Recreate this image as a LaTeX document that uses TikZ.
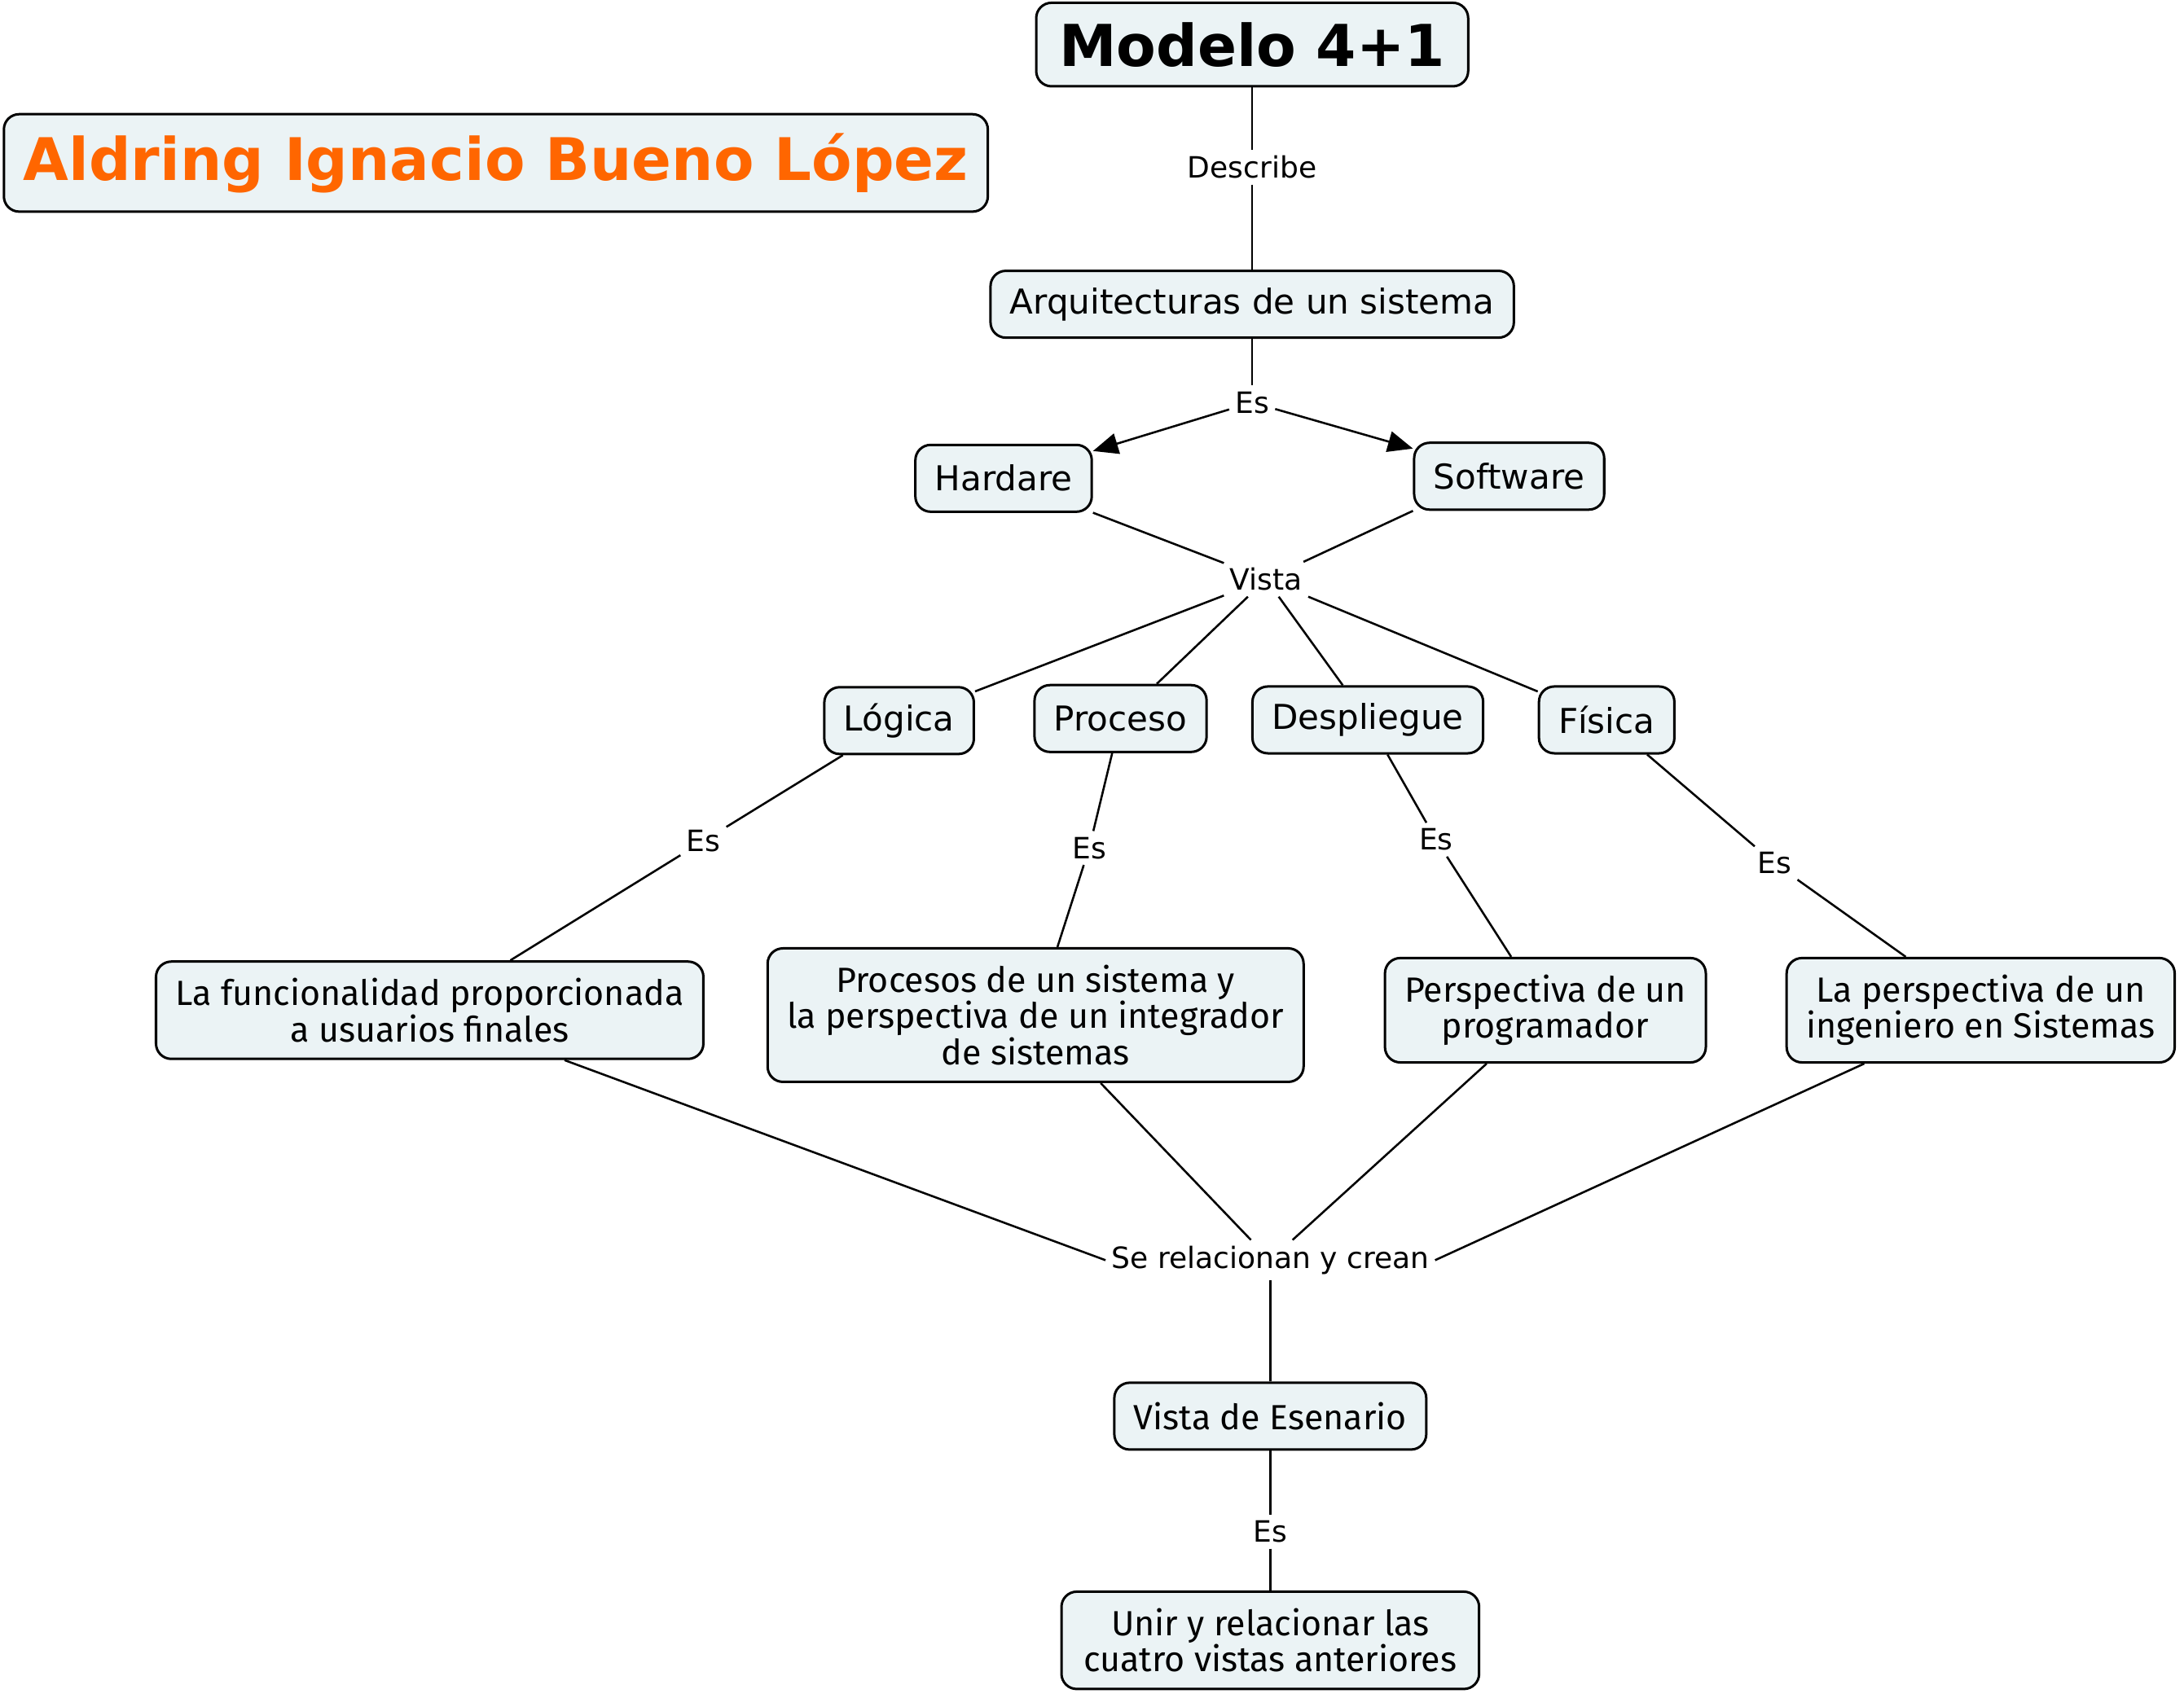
\documentclass[tikz,border=0pt]{standalone}
\usepackage{fontspec}
\setmainfont{DejaVu Sans}
\newfontfamily\boxfont{Fira Sans}
\usetikzlibrary{arrows.meta}

\definecolor{cmapfill}{RGB}{235,243,245}
\definecolor{nameorange}{RGB}{255,102,0}

\tikzset{
  concept/.style={draw, line width=1pt, rounded corners=0.22cm, fill=cmapfill,
    inner xsep=0.28cm, inner ysep=0.2cm, minimum height=0.96cm,
    font=\fontsize{14}{16}\selectfont},
  longconcept/.style={concept, align=center, inner ysep=0.24cm,
    font=\boxfont\fontsize{14.3}{14.8}\selectfont},
  linkword/.style={inner sep=0.08cm, font=\fontsize{12}{14}\selectfont},
  link/.style={line width=0.85pt},
  arrowlink/.style={link, -{Triangle[length=0.36cm,width=0.3cm]}},
}

\begin{document}
\begin{tikzpicture}[x=0.02cm,y=-0.02cm]
  \useasboundingbox (0,0) rectangle (1568,1219);

  % header
  \node[concept, minimum height=1.2cm, inner xsep=0.33cm,
    font=\bfseries\fontsize{23.6}{28}\selectfont] (modelo) at (899,32) {Modelo 4+1};
  \node[concept, minimum height=1.4cm, inner xsep=0.28cm, text=nameorange,
    font=\bfseries\fontsize{24}{27}\selectfont] (autor) at (356,117) {Aldring Ignacio Bueno López};

  % upper part
  \node[concept] (arq) at (899,218.5) {Arquitecturas de un sistema};
  \node[linkword] (describe) at (899,120) {Describe};
  \node[linkword] (esarq) at (899,289) {Es};
  \node[concept] (hard) at (720.5,343.5) {Hardare};
  \node[concept] (soft) at (1083.5,342) {Software};
  \node[linkword] (vista) at (909,416) {Vista};

  % the four views
  \node[concept] (logica) at (645.5,517.5) {Lógica};
  \node[concept] (proceso) at (804.5,516) {Proceso};
  \node[concept] (despliegue) at (982,517) {Despliegue};
  \node[concept] (fisica) at (1153.5,517) {Física};

  \node[linkword] (eslog) at (505,604) {Es};
  \node[linkword] (esproc) at (782,609) {Es};
  \node[linkword] (esdesp) at (1031,603) {Es};
  \node[linkword] (esfis) at (1274,620) {Es};

  \node[longconcept] (funcion) at (308.5,725.5) {La funcionalidad proporcionada\\a usuarios finales};
  \node[longconcept] (procesos) at (743.5,729) {Procesos de un sistema y\\la perspectiva de un integrador\\de sistemas};
  \node[longconcept] (program) at (1109.5,725.5) {Perspectiva de un\\programador};
  \node[longconcept] (ingen) at (1422,725.5) {La perspectiva de un\\ingeniero en Sistemas};

  % scenario
  \node[linkword] (relac) at (912,905) {Se relacionan y crean};
  \node[longconcept] (escen) at (912,1017) {Vista de Esenario};
  \node[linkword] (esesc) at (912,1100) {Es};
  \node[longconcept, inner xsep=0.32cm] (unir) at (912,1178) {Unir y relacionar las\\cuatro vistas anteriores};

  % connectors
  \draw[link] (modelo) -- (describe) -- (arq);
  \draw[link] (arq) -- (esarq);
  \draw[arrowlink] (esarq) -- (hard);
  \draw[arrowlink] (esarq) -- (soft);
  \draw[link] (hard) -- (vista) -- (soft.south west);
  \foreach \v in {logica,proceso,despliegue,fisica}
    \draw[link] (vista) -- (\v);
  \draw[link] (logica) -- (eslog) -- (funcion);
  \draw[link] (proceso) -- (esproc) -- (procesos);
  \draw[link] (despliegue) -- (esdesp) -- (program);
  \draw[link] (fisica) -- (esfis) -- (ingen);
  \draw[link] (funcion) -- (relac.west);
  \draw[link] (procesos) -- (relac);
  \draw[link] (program) -- (relac);
  \draw[link] (ingen) -- (relac.east);
  \draw[link] (relac) -- (escen) -- (esesc) -- (unir);
\end{tikzpicture}
\end{document}
